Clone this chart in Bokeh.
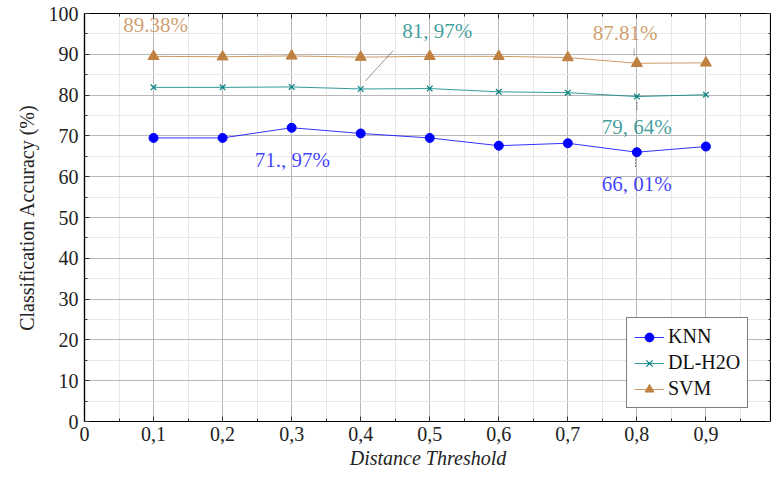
from bokeh.plotting import figure
from bokeh.models import (LinearAxis, FixedTicker, CustomJSTickFormatter, Label, Legend,
                          LegendItem, Range1d, ColumnDataSource)
from bokeh.embed import file_html
from bokeh.resources import INLINE

thresholds = [0.1, 0.2, 0.3, 0.4, 0.5, 0.6, 0.7, 0.8, 0.9]
knn = [69.5, 69.5, 72.0, 70.6, 69.5, 67.6, 68.2, 66.0, 67.4]
dl_h2o = [81.9, 81.9, 82.0, 81.5, 81.6, 80.8, 80.6, 79.64, 80.1]
svm = [89.5, 89.4, 89.6, 89.3, 89.5, 89.5, 89.2, 87.8, 87.9]
x_ticks = [0, 0.1, 0.2, 0.3, 0.4, 0.5, 0.6, 0.7, 0.8, 0.9, 1.0]
x_tick_labels = ["0", "0,1", "0,2", "0,3", "0,4", "0,5", "0,6", "0,7", "0,8", "0,9", "1"]
y_ticks = [0, 10, 20, 30, 40, 50, 60, 70, 80, 90, 100]
annotation_texts = ["89.38%", "81, 97%", "71., 97%", "87.81%", "79, 64%", "66, 01%"]

BLUE = "#0000ff"
TEAL = "#008080"
BROWN = "#bf8040"
FONT = "'Liberation Serif', serif"

p = figure(width=771, height=479, output_backend="svg", toolbar_location=None,
           x_range=Range1d(0, 0.995), y_range=Range1d(0, 100),
           min_border_left=84, min_border_top=13, min_border_right=0, min_border_bottom=58,
           x_axis_label="Distance Threshold", y_axis_label="Classification Accuracy (%)")
p.outline_line_color = "black"
p.outline_line_width = 1.2
p.background_fill_color = "white"
p.border_fill_color = "white"

fmt_x = CustomJSTickFormatter(args=dict(lbls=x_tick_labels, tvals=x_ticks), code="""
    for (let i = 0; i < tvals.length; i++) { if (Math.abs(tvals[i]-tick) < 1e-6) return lbls[i]; }
    return '';
""")
blank = CustomJSTickFormatter(code="return '';")

def style_axis(ax, labels=True):
    ax.axis_line_color = "black"
    ax.axis_line_width = 1.2
    ax.major_tick_in = 5
    ax.major_tick_out = 0
    ax.minor_tick_in = 3
    ax.minor_tick_out = 0
    ax.major_tick_line_color = "#333333"
    ax.minor_tick_line_color = "#333333"
    ax.major_label_text_font = FONT
    ax.major_label_text_font_size = "20px"
    ax.major_label_text_color = "#222222"
    ax.axis_label_text_font = FONT
    ax.axis_label_text_font_size = "20px"
    ax.axis_label_text_color = "#222222"
    ax.axis_label_text_font_style = "normal"
    if not labels:
        ax.formatter = blank
        ax.major_label_standoff = 0

xt = FixedTicker(ticks=x_ticks, minor_ticks=[i * 0.05 for i in range(21)])
yt = FixedTicker(ticks=y_ticks, minor_ticks=list(range(0, 101, 5)))

xa = p.xaxis[0]
xa.ticker = xt
xa.formatter = fmt_x
style_axis(xa)
xa.axis_label_text_font_style = "italic"
xa.major_label_standoff = 5
xa.axis_label_standoff = 3

ya = p.yaxis[0]
ya.ticker = yt
style_axis(ya)
ya.major_label_standoff = 6
ya.axis_label_standoff = 8

top = LinearAxis(ticker=xt)
style_axis(top, labels=False)
p.add_layout(top, "above")
right = LinearAxis(ticker=yt)
style_axis(right, labels=False)
p.add_layout(right, "right")

for g in (p.xgrid[0], p.ygrid[0]):
    g.grid_line_color = "#b8b8b8"
    g.grid_line_width = 1
    g.minor_grid_line_color = "#e8e8e8"
    g.minor_grid_line_width = 1
p.xgrid[0].ticker = xt
p.ygrid[0].ticker = yt

src = ColumnDataSource(dict(x=thresholds, knn=knn, dl=dl_h2o, svm=svm))

l1 = p.line("x", "knn", source=src, line_color=BLUE, line_width=1, line_alpha=0.8)
m1 = p.scatter("x", "knn", source=src, marker="circle", size=9, fill_color=BLUE, line_color=BLUE)
l2 = p.line("x", "dl", source=src, line_color=TEAL, line_width=1, line_alpha=0.8)
m2 = p.scatter("x", "dl", source=src, marker="x", size=8, line_color=TEAL, line_width=1.2)
l3 = p.line("x", "svm", source=src, line_color=BROWN, line_width=1, line_alpha=0.8)
m3 = p.scatter("x", "svm", source=src, marker="triangle", size=11, fill_color=BROWN, line_color=BROWN)

# annotation pins (from data points to labels)
pin_color = "#444444"
p.segment(x0=[thresholds[3] + 0.007], y0=[dl_h2o[3] + 2.0], x1=[0.447], y1=[90.9],
          line_color=pin_color, line_width=0.8, line_alpha=0.7)
p.segment(x0=[thresholds[7] - 0.004], y0=[svm[7] + 1.9], x1=[thresholds[7] - 0.004], y1=[91.4],
          line_color=pin_color, line_width=1, line_alpha=0.7, line_dash="2 1")
p.segment(x0=[thresholds[7]], y0=[dl_h2o[7] - 1.3], x1=[thresholds[7]], y1=[76.2],
          line_color=pin_color, line_width=1, line_alpha=0.7, line_dash="2 1")
p.segment(x0=[thresholds[7] - 0.002], y0=[knn[7] - 0.9], x1=[thresholds[7] - 0.002], y1=[62.3],
          line_color=pin_color, line_width=1, line_alpha=0.7, line_dash="2 1")

ann_pos = [(0.103, 97.1, BROWN), (0.511, 95.8, TEAL), (0.301, 64.0, BLUE),
           (0.783, 95.3, BROWN), (0.800, 72.1, TEAL), (0.800, 58.3, BLUE)]
for txt, (ax_, ay_, col) in zip(annotation_texts, ann_pos):
    p.add_layout(Label(x=ax_, y=ay_, text=txt, text_align="center", text_baseline="middle",
                       text_font=FONT, text_font_size="21px", text_color=col,
                       text_alpha=0.75))

legend = Legend(items=[LegendItem(label="KNN", renderers=[l1, m1]),
                       LegendItem(label="DL-H2O", renderers=[l2, m2]),
                       LegendItem(label="SVM", renderers=[l3, m3])],
                location=(542, 13))
legend.label_text_font = FONT
legend.label_text_font_size = "20px"
legend.label_text_color = "#111111"
legend.border_line_color = "black"
legend.border_line_width = 1.2
legend.background_fill_alpha = 1
legend.glyph_width = 30
legend.glyph_height = 22
legend.label_height = 22
legend.spacing = 3
legend.padding = 7
legend.margin = 0
legend.label_standoff = 4
p.add_layout(legend, "center")

open("out.html", "w").write(file_html(p, INLINE))
